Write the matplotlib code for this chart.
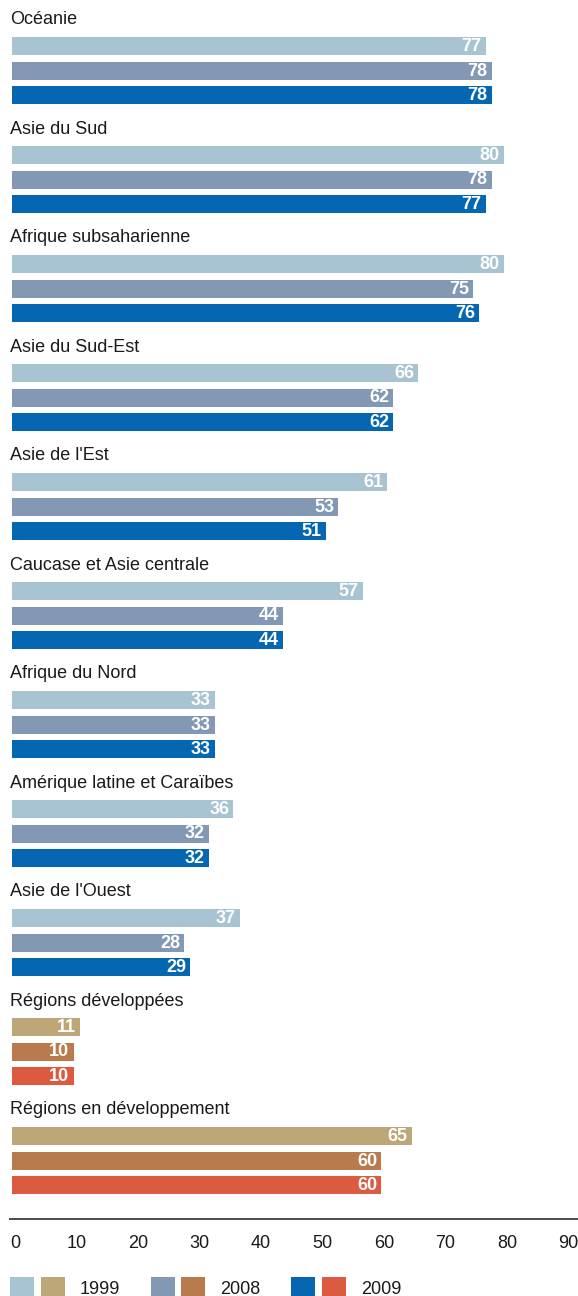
import matplotlib

matplotlib.use("Agg")
import matplotlib.pyplot as plt
from matplotlib.patches import Rectangle
from matplotlib.transforms import offset_copy

plt.rcParams["font.family"] = ["Liberation Sans", "DejaVu Sans"]

REGIONS = [
    "Océanie",
    "Asie du Sud",
    "Afrique subsaharienne",
    "Asie du Sud-Est",
    "Asie de l'Est",
    "Caucase et Asie centrale",
    "Afrique du Nord",
    "Amérique latine et Caraïbes",
    "Asie de l'Ouest",
    "Régions développées",
    "Régions en développement",
]
V1999 = [77, 80, 80, 66, 61, 57, 33, 36, 37, 11, 65]
V2008 = [78, 78, 75, 62, 53, 44, 33, 32, 28, 10, 60]
V2009 = [78, 77, 76, 62, 51, 44, 33, 32, 29, 10, 60]
YEARS = ["1999", "2008", "2009"]
TICKS = [0, 10, 20, 30, 40, 50, 60, 70, 80, 90]

BLUES = ["#a8c3d1", "#8298b4", "#0567b2"]
WARMS = ["#bda779", "#b97a4e", "#dc5a40"]
DEVELOPED = {"Régions développées", "Régions en développement"}

W, H = 578, 1296
SCALE = 6.15  # px per unit
X0 = 12  # px where 0 sits
FS = 13

fig = plt.figure(figsize=(W / 100, H / 100), dpi=100)
ax = fig.add_axes([0, 0, 1, 1])
ax.set_xlim(-X0 / SCALE, (W - X0) / SCALE)
ax.set_ylim(H, 0)
ax.axis("off")

group_step = 109
bar_step = 24.5
for i, region in enumerate(REGIONS):
    top = 20 + i * group_step
    ax.text(-2 / SCALE, top, region, fontsize=FS, va="center", ha="left", color="#1a1a1a")
    colors = WARMS if region in DEVELOPED else BLUES
    for j, vals in enumerate([V1999, V2008, V2009]):
        yc = top + 26 + j * bar_step
        ax.barh(yc, vals[i], height=18, left=0, color=colors[j], edgecolor="none")
        ax.text(vals[i] - 4 / SCALE, yc + 0.5, str(vals[i]), color="white", fontsize=FS,
                fontweight="bold", ha="right", va="center")

# bottom axis
ax.plot([-3 / SCALE, (W - X0) / SCALE], [1219, 1219], color="#1a1a1a", lw=1.1,
        solid_capstyle="butt", clip_on=False)
shifted = offset_copy(ax.transData, fig=fig, x=3, y=0, units="dots")
for t in TICKS:
    ax.text(t, 1243, str(t), fontsize=FS, ha="center", va="center", color="#1a1a1a",
            transform=shifted)

# legend
for k, year in enumerate(YEARS):
    lx = 10 + k * 140.5
    for m, cols in enumerate([BLUES, WARMS]):
        px = lx + m * 30.5
        ax.add_patch(Rectangle(((px - X0) / SCALE, 1277), 24 / SCALE, 20,
                               color=cols[k], lw=0, clip_on=False))
    ax.text((lx + 70 - X0) / SCALE, 1290, year, fontsize=FS, ha="left", va="center",
            color="#1a1a1a")

fig.savefig("out.png", dpi=100)
